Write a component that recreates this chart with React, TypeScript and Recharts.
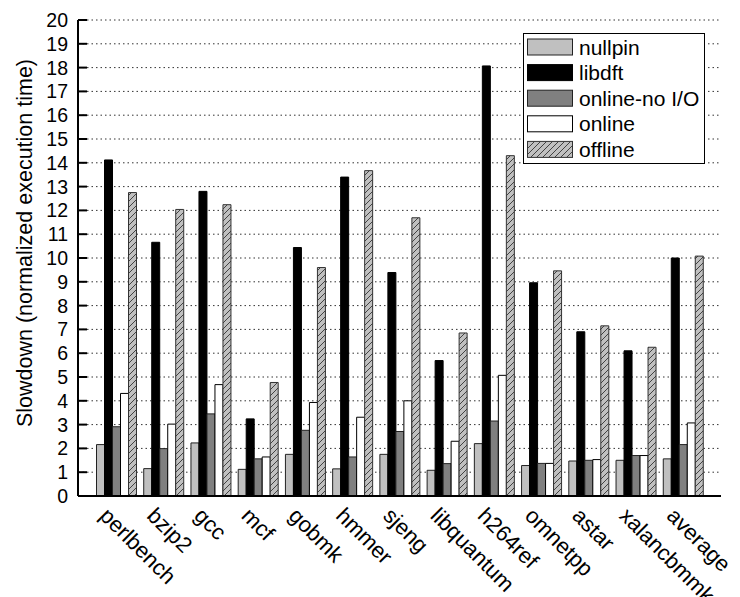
import React from 'react';
import { BarChart, Bar, XAxis, YAxis, CartesianGrid, Legend } from 'recharts';

const benchmarks = ['perlbench', 'bzip2', 'gcc', 'mcf', 'gobmk', 'hmmer', 'sjeng', 'libquantum', 'h264ref', 'omnetpp', 'astar', 'xalancbmmk', 'average'];
const nullpin = [2.16, 1.15, 2.23, 1.12, 1.75, 1.14, 1.75, 1.08, 2.2, 1.28, 1.47, 1.5, 1.56];
const libdft = [14.12, 10.66, 12.8, 3.24, 10.44, 13.4, 9.39, 5.69, 18.07, 8.96, 6.9, 6.1, 10.0];
const onlineNoIO = [2.91, 1.99, 3.45, 1.56, 2.76, 1.64, 2.71, 1.36, 3.15, 1.37, 1.5, 1.7, 2.16];
const online = [4.31, 3.02, 4.68, 1.64, 3.93, 3.31, 4.0, 2.3, 5.07, 1.37, 1.53, 1.7, 3.07];
const offline = [12.75, 12.04, 12.24, 4.77, 9.6, 13.67, 11.69, 6.85, 14.3, 9.46, 7.15, 6.25, 10.08];

const yTicks = Array.from({ length: 21 }, (_, i) => i);
const yMinorTicks = Array.from({ length: 20 }, (_, i) => i + 0.5);
const topTicks = Array.from({ length: 27 }, (_, i) => i / 2);

const series = [
  { key: 'nullpin', label: 'nullpin', fill: '#c0c0c0', stroke: '#222' },
  { key: 'libdft', label: 'libdft', fill: '#000000', stroke: '#000' },
  { key: 'onlineNoIO', label: 'online-no I/O', fill: '#808080', stroke: '#222' },
  { key: 'online', label: 'online', fill: '#ffffff', stroke: '#000' },
  { key: 'offline', label: 'offline', fill: 'url(#hatch)', stroke: '#333' },
];

const data = benchmarks.map((name, i) => ({
  name,
  nullpin: nullpin[i],
  libdft: libdft[i],
  onlineNoIO: onlineNoIO[i],
  online: online[i],
  offline: offline[i],
}));

const FONT = '"Liberation Sans", Arial, sans-serif';

function XTick({ x, y, payload }: any) {
  const ax = x - 17;
  const ay = y + 13;
  return (
    <text x={ax} y={ay} transform={`rotate(45, ${ax}, ${ay})`} textAnchor="start" fontSize={22} fontFamily={FONT} fill="#000">
      {payload.value}
    </text>
  );
}

function LegendBox() {
  return (
    <svg width={182} height={131} style={{ display: 'block' }}>
      <defs>
        <pattern id="hatchLegend" width="6" height="6" patternUnits="userSpaceOnUse">
          <rect width="6" height="6" fill="#c0c0c0" />
          <path d="M0,6 L6,0 M-1,1 L1,-1 M5,7 L7,5" stroke="#222" strokeWidth="0.8" />
        </pattern>
      </defs>
      <rect x={0.5} y={0.5} width={181} height={130} fill="#fff" stroke="#000" strokeWidth={1} />
      {series.map((s, i) => {
        const cy = 14 + i * 25.6;
        return (
          <g key={s.key}>
            <rect x={4.5} y={cy - 8} width={45} height={16}
              fill={s.key === 'offline' ? 'url(#hatchLegend)' : s.fill} stroke={s.stroke} strokeWidth={1} />
            <text x={56} y={cy + 7.5} fontSize={21} fontFamily={FONT} fill="#000">{s.label}</text>
          </g>
        );
      })}
    </svg>
  );
}

export default function App() {
  return (
    <div style={{ position: 'absolute', left: 0, top: 0, width: 740, height: 597, background: '#fff', overflow: 'hidden' }}>
      <BarChart width={740} height={597} data={data} margin={{ top: 20, right: 19, bottom: 0, left: 0 }}
        barCategoryGap={4.5} barGap={0}>
        <defs>
          <pattern id="hatch" width="6" height="6" patternUnits="userSpaceOnUse">
            <rect width="6" height="6" fill="#c0c0c0" />
            <path d="M0,6 L6,0 M-1,1 L1,-1 M5,7 L7,5" stroke="#222" strokeWidth="0.8" />
          </pattern>
        </defs>
        <CartesianGrid vertical={false} stroke="#333" strokeDasharray="1.5 3" />
        <XAxis dataKey="name" height={101} padding={{ left: 14, right: 15 }} interval={0}
          axisLine={{ stroke: '#000', strokeWidth: 2 }} tickLine={false} tick={<XTick />} />
        <XAxis xAxisId="top" orientation="top" type="number" domain={[0, 13]} ticks={topTicks} height={0}
          padding={{ left: 14, right: 15 }} interval={0} tick={false} tickSize={-4}
          axisLine={{ stroke: '#000', strokeWidth: 2 }} tickLine={{ stroke: '#000', strokeWidth: 1 }} />
        <YAxis domain={[0, 20]} ticks={yTicks} interval={0} width={78} tickSize={-9} tickMargin={19}
          axisLine={{ stroke: '#000', strokeWidth: 2 }} tickLine={{ stroke: '#000', strokeWidth: 2 }}
          tick={{ fontSize: 19.5, fontFamily: FONT, fill: '#000' }} />
        <YAxis yAxisId="minorL" domain={[0, 20]} ticks={yMinorTicks} interval={0} width={0} tickSize={-4}
          axisLine={false} tick={false} tickLine={{ stroke: '#000', strokeWidth: 1 }} />
        <YAxis yAxisId="right" orientation="right" domain={[0, 20]} ticks={yTicks} interval={0} width={0} tickSize={-9}
          axisLine={{ stroke: '#000', strokeWidth: 2 }} tick={false} tickLine={{ stroke: '#000', strokeWidth: 2 }} />
        <YAxis yAxisId="minorR" orientation="right" domain={[0, 20]} ticks={yMinorTicks} interval={0} width={0} tickSize={-4}
          axisLine={false} tick={false} tickLine={{ stroke: '#000', strokeWidth: 1 }} />
        {series.map(s => (
          <Bar key={s.key} dataKey={s.key} name={s.label} fill={s.fill} stroke={s.stroke} strokeWidth={1}
            isAnimationActive={false} />
        ))}
        <Legend layout="vertical" align="center" verticalAlign="middle" content={() => <LegendBox />}
          wrapperStyle={{ position: 'absolute', left: 523, top: 33, width: 182, height: 131 }} />
      </BarChart>
      <svg width={740} height={597} style={{ position: 'absolute', left: 0, top: 0, pointerEvents: 'none' }}>
        <text transform="translate(32, 243) rotate(-90)" textAnchor="middle" fontSize={21.5} fontFamily={FONT} fill="#000">
          Slowdown (normalized execution time)
        </text>
      </svg>
    </div>
  );
}
